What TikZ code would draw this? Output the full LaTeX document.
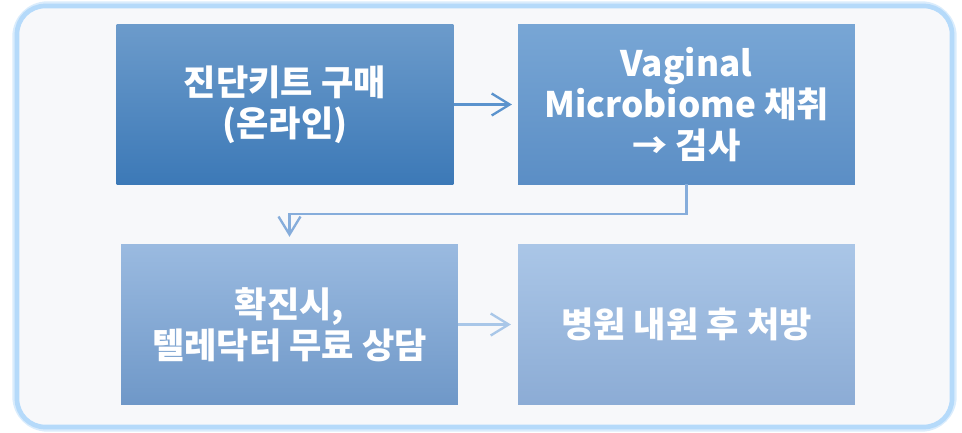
\documentclass[tikz,border=0pt]{standalone}
\usepackage{fontspec}
\setmainfont{Noto Sans CJK KR}
\usepackage{xcolor}
\usepackage{tikz}
\usetikzlibrary{shapes,arrows,arrows.meta,positioning,calc}

\definecolor{framefill}{HTML}{F7F8FA}
\definecolor{frameline}{HTML}{B5DAFA}

\tikzset{
  stepbox/.style={rectangle, minimum width=10.1cm, minimum height=4.77cm,
    align=center, text=white, inner sep=0pt,
    font=\bfseries\fontsize{30}{35}\selectfont},
  flow/.style={line width=2pt, -{Straight Barb[length=5.4mm,width=6.6mm,line width=2pt]}}
}

\begin{document}
\begin{tikzpicture}[x=0.03cm,y=-0.03cm]
\useasboundingbox (0,0) rectangle (962,433);
% Frame
\draw[line width=8pt,frameline!50,rounded corners=26] (17,6) rectangle (952,427);
\draw[line width=4pt,frameline,fill=framefill,rounded corners=24] (17,6) rectangle (952,427);

% Steps
\node[stepbox, top color={rgb,255:red,108;green,155;blue,203}, bottom color={rgb,255:red,60;green,121;blue,183}]
  (kit) at (285,104.5) {진단키트 구매\\(온라인)};
\node[stepbox, top color={rgb,255:red,120;green,166;blue,213}, bottom color={rgb,255:red,91;green,142;blue,197}]
  (sample) at (686.5,104.5) {Vaginal\\Microbiome 채취\\→ 검사};
\node[stepbox, top color={rgb,255:red,154;green,186;blue,224}, bottom color={rgb,255:red,111;green,152;blue,200}]
  (consult) at (289.5,324.5) {확진시,\\텔레닥터 무료 상담};
\node[stepbox, top color={rgb,255:red,170;green,198;blue,231}, bottom color={rgb,255:red,140;green,172;blue,213}]
  (clinic) at (686.5,324.5) {병원 내원 후 처방};

% Arrows
\draw[flow,color={rgb,255:red,91;green,147;blue,205},shorten >=0.18cm] (kit) -- (sample);
\draw[flow,color={rgb,255:red,134;green,173;blue,219},shorten >=0.24cm] (sample.south) -- ++(0,30) -| (consult.north);
\draw[flow,color={rgb,255:red,169;green,199;blue,232},shorten >=0.21cm] (consult) -- (clinic);
\end{tikzpicture}
\end{document}
